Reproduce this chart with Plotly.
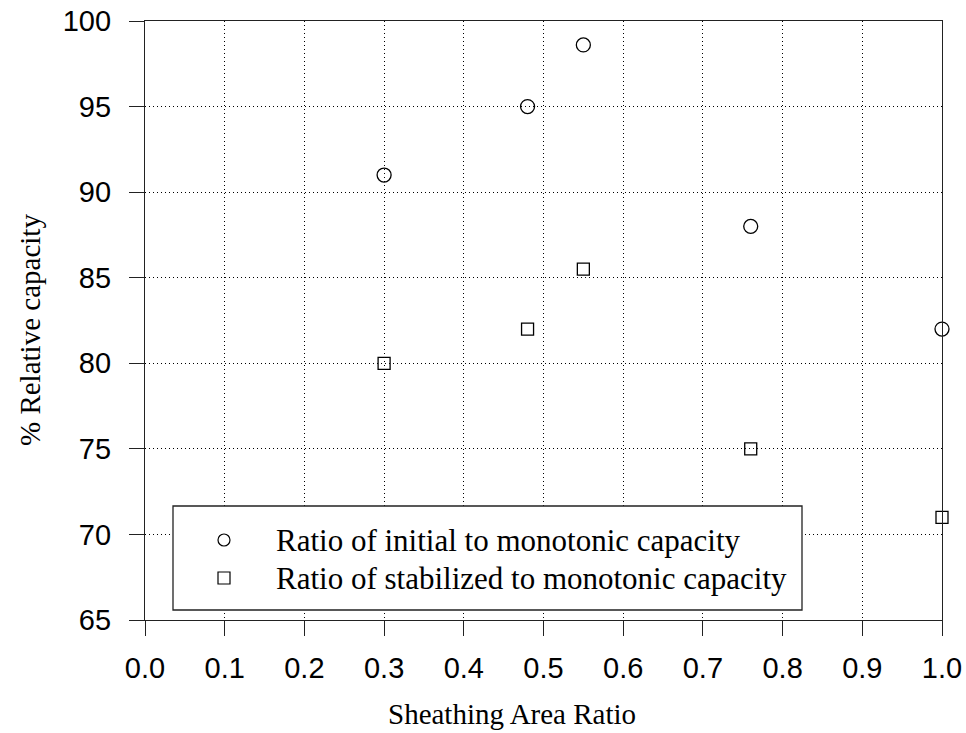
import plotly.graph_objects as go

# Sheathing area ratio of each tested wall
area_ratio = [0.3, 0.48, 0.55, 0.76, 1.0]
# Capacity as a percentage of monotonic capacity
initial_pct = [91, 95, 98.6, 88, 82]
stabilized_pct = [80, 82, 85.5, 75, 71]

series_names = ["Ratio of initial to monotonic capacity",
                "Ratio of stabilized to monotonic capacity"]

x_ticks = [0.0, 0.1, 0.2, 0.3, 0.4, 0.5, 0.6, 0.7, 0.8, 0.9, 1.0]
y_ticks = [65, 70, 75, 80, 85, 90, 95, 100]

x_title = "Sheathing Area Ratio"
y_title = "% Relative capacity"

W, H = 966, 733
ML, MR, MT, MB = 145, 24, 21, 113

SANS = "Liberation Sans, Arial"
SERIF = "Liberation Serif, Times New Roman"

fig = go.Figure()
fig.add_trace(go.Scatter(
    x=area_ratio, y=initial_pct, mode="markers", name=series_names[0],
    marker=dict(symbol="circle-open", size=14, color="black", line=dict(width=1.3)),
    cliponaxis=False, showlegend=False))
fig.add_trace(go.Scatter(
    x=area_ratio, y=stabilized_pct, mode="markers", name=series_names[1],
    marker=dict(symbol="square-open", size=12, color="black", line=dict(width=1.3)),
    cliponaxis=False, showlegend=False))

axis_common = dict(
    showline=True, linecolor="#222", linewidth=1.3, mirror=True,
    ticks="outside", ticklen=15, tickwidth=1.3, tickcolor="#222",
    showgrid=True, gridcolor="black", griddash="1px,3px", gridwidth=1,
    zeroline=False, automargin=False,
    tickfont=dict(family=SANS, size=29, color="black"),
)

fig.update_xaxes(range=[0, 1], tickvals=x_ticks,
                 ticktext=[f"{v:.1f}" for v in x_ticks],
                 ticklabelstandoff=7,
                 **axis_common)
fig.update_yaxes(range=[65, 100], tickvals=y_ticks,
                 ticklabelstandoff=12,
                 **axis_common)

# Pixel -> paper coordinate helpers
pw = W - ML - MR
ph = H - MT - MB
def px_x(p):
    return (p - ML) / pw
def px_y(p):
    return (H - MB - p) / ph

# Hand-built legend box
shapes = [dict(type="rect", xref="paper", yref="paper",
               x0=px_x(173), x1=px_x(802), y0=px_y(610), y1=px_y(506),
               line=dict(color="#222", width=1.3), fillcolor="white", layer="above")]
legend_rows = [(540, "circle"), (578, "rect")]
for cy, kind in legend_rows:
    shapes.append(dict(type=kind, xref="paper", yref="paper",
                       xsizemode="pixel", ysizemode="pixel",
                       xanchor=px_x(224), yanchor=px_y(cy),
                       x0=-6, x1=6, y0=-6, y1=6,
                       line=dict(color="black", width=1.2), layer="above"))

annotations = []
for (cy, _), name in zip(legend_rows, series_names):
    annotations.append(dict(xref="paper", yref="paper", x=px_x(274), y=px_y(cy),
                            text=name, showarrow=False, xanchor="left", yanchor="middle",
                            font=dict(family=SERIF, size=31, color="black")))

# Axis titles
annotations.append(dict(xref="paper", yref="paper", x=px_x(512), y=px_y(732),
                        text=x_title, showarrow=False, xanchor="center", yanchor="bottom",
                        font=dict(family=SERIF, size=29, color="black")))
annotations.append(dict(xref="paper", yref="paper", x=px_x(30), y=px_y(330),
                        text=y_title, showarrow=False, xanchor="center", yanchor="middle",
                        textangle=-90,
                        font=dict(family=SERIF, size=29, color="black")))

fig.update_layout(
    width=W, height=H,
    margin=dict(l=ML, r=MR, t=MT, b=MB),
    paper_bgcolor="white", plot_bgcolor="white",
    shapes=shapes, annotations=annotations,
    showlegend=False,
)

fig.write_html("out.html")
